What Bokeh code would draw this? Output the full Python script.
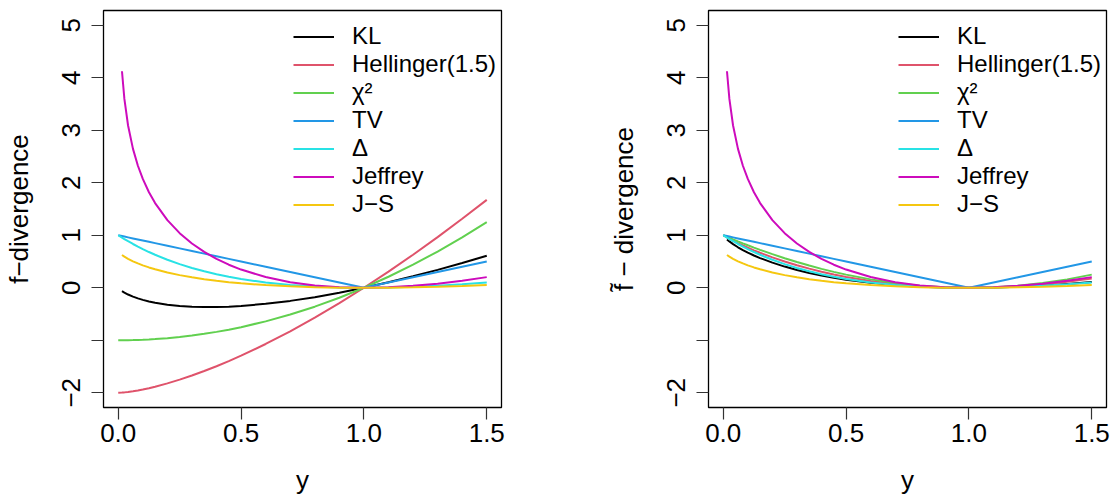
from bokeh.plotting import figure
from bokeh.models import Legend, LegendItem, FixedTicker
from bokeh.layouts import row
from bokeh.embed import file_html
from bokeh.resources import INLINE

# ---- data ---------------------------------------------------------------
y_grid = [0.0, 0.0152, 0.025, 0.04, 0.06, 0.08, 0.1, 0.125, 0.15, 0.2, 0.25,
          0.3, 0.35, 0.4, 0.45, 0.5, 0.6, 0.7, 0.8, 0.9, 1.0, 1.1, 1.2, 1.3,
          1.4, 1.5]

series_names = ["KL", "Hellinger(1.5)", "χ²", "TV", "Δ", "Jeffrey", "J−S"]
series_colors = ["#000000", "#DF536B", "#61D04F", "#2297E6", "#28E2E5",
                 "#CD0BBC", "#F5C710"]

# left panel: f-divergence (KL, Jeffrey, J-S start at the second grid point)
kl = [-0.0636, -0.0922, -0.1288, -0.1688, -0.2021, -0.2303, -0.2599, -0.2846,
      -0.3219, -0.3466, -0.3612, -0.3674, -0.3665, -0.3593, -0.3466, -0.3065,
      -0.2497, -0.1785, -0.0949, 0.0, 0.1048, 0.2188, 0.3411, 0.4711, 0.6082]
hellinger = [-2.0, -1.9963, -1.9921, -1.984, -1.9706, -1.9547, -1.9368, -1.9116,
             -1.8838, -1.8211, -1.75, -1.6714, -1.5859, -1.494, -1.3963, -1.2929,
             -1.0705, -0.8287, -0.5689, -0.2924, 0.0, 0.3074, 0.6291, 0.9645,
             1.313, 1.6742]
chi2 = [-1.0, -0.9998, -0.9994, -0.9984, -0.9964, -0.9936, -0.99, -0.9844,
        -0.9775, -0.96, -0.9375, -0.91, -0.8775, -0.84, -0.7975, -0.75, -0.64,
        -0.51, -0.36, -0.19, 0.0, 0.21, 0.44, 0.69, 0.96, 1.25]
tv = [1.0, 0.9848, 0.975, 0.96, 0.94, 0.92, 0.9, 0.875, 0.85, 0.8, 0.75, 0.7,
      0.65, 0.6, 0.55, 0.5, 0.4, 0.3, 0.2, 0.1, 0.0, 0.1, 0.2, 0.3, 0.4, 0.5]
delta = [1.0, 0.9553, 0.9274, 0.8862, 0.8336, 0.7837, 0.7364, 0.6806, 0.6283,
         0.5333, 0.45, 0.3769, 0.313, 0.2571, 0.2086, 0.1667, 0.1, 0.0529,
         0.0222, 0.0053, 0.0, 0.0048, 0.0182, 0.0391, 0.0667, 0.1]
jeffrey = [4.1229, 3.5967, 3.0901, 2.6446, 2.3236, 2.0723, 1.8195, 1.6125,
           1.2875, 1.0397, 0.8428, 0.6824, 0.5498, 0.4392, 0.3466, 0.2043,
           0.107, 0.0446, 0.0105, 0.0, 0.0095, 0.0365, 0.0787, 0.1346, 0.2027]
js = [0.6247, 0.5929, 0.5513, 0.5042, 0.4634, 0.4274, 0.3874, 0.3518, 0.2911,
      0.2409, 0.1988, 0.1632, 0.1328, 0.107, 0.085, 0.0505, 0.0266, 0.0112,
      0.0026, 0.0, 0.0024, 0.0091, 0.0197, 0.0335, 0.0504]

# right panel: normalised f-divergence
kl_t = [0.9212, 0.8828, 0.8312, 0.7712, 0.7179, 0.6697, 0.6151, 0.5654, 0.4781,
        0.4034, 0.3388, 0.2826, 0.2335, 0.1907, 0.1534, 0.0935, 0.0503, 0.0215,
        0.0051, 0.0, 0.0048, 0.0188, 0.0411, 0.0711, 0.1082]
hellinger_t = [1.0, 0.9581, 0.9329, 0.896, 0.8494, 0.8053, 0.7632, 0.7134,
               0.6662, 0.5789, 0.5, 0.4286, 0.3641, 0.306, 0.2537, 0.2071,
               0.1295, 0.0713, 0.0311, 0.0076, 0.0, 0.0074, 0.0291, 0.0645,
               0.113, 0.1742]
chi2_t = [1.0, 0.9698, 0.9506, 0.9216, 0.8836, 0.8464, 0.81, 0.7656, 0.7225,
          0.64, 0.5625, 0.49, 0.4225, 0.36, 0.3025, 0.25, 0.16, 0.09, 0.04,
          0.01, 0.0, 0.01, 0.04, 0.09, 0.16, 0.25]

x_ticks = [0.0, 0.5, 1.0, 1.5]
x_tick_labels = ["0.0", "0.5", "1.0", "1.5"]
y_ticks = [-2, -1, 0, 1, 2, 3, 4, 5]
y_tick_labels = ["−2", "", "0", "1", "2", "3", "4", "5"]

FONT = "Liberation Sans"


def xs_for(vals):
    return y_grid[len(y_grid) - len(vals):]


def make_panel(series, ylabel, border_left, border_right):
    p = figure(frame_width=398, frame_height=397,
               x_range=(-0.06, 1.56), y_range=(-2.28, 5.28),
               min_border_left=border_left, min_border_right=border_right,
               min_border_top=10, min_border_bottom=90,
               output_backend="svg", toolbar_location=None)
    p.xgrid.visible = False
    p.ygrid.visible = False
    p.outline_line_color = "#000000"
    p.outline_line_width = 1.3
    p.background_fill_color = "white"
    p.border_fill_color = "white"

    p.xaxis.ticker = FixedTicker(ticks=x_ticks)
    p.xaxis.major_label_overrides = dict(zip(x_ticks, x_tick_labels))
    p.yaxis.ticker = FixedTicker(ticks=y_ticks)
    p.yaxis.major_label_overrides = dict(zip(y_ticks, y_tick_labels))
    p.yaxis.major_label_orientation = "vertical"

    for ax in (p.xaxis, p.yaxis):
        ax.axis_line_color = None
        ax.major_tick_line_color = "#333333"
        ax.major_tick_line_width = 1.2
        ax.major_tick_out = 12
        ax.major_tick_in = 0
        ax.minor_tick_line_color = None
        ax.major_label_text_font = FONT
        ax.major_label_text_font_size = "26px"
        ax.major_label_text_color = "#000000"
        ax.axis_label_text_font = FONT
        ax.axis_label_text_font_size = "26px"
        ax.axis_label_text_font_style = "normal"
        ax.axis_label_text_color = "#000000"
    p.xaxis.major_label_standoff = 4
    p.yaxis.major_label_standoff = 11
    p.xaxis.axis_label = "y"
    p.xaxis.axis_label_standoff = 20
    p.yaxis.axis_label = ylabel
    p.yaxis.axis_label_standoff = 26

    items = []
    for name, vals, col in zip(series_names, series, series_colors):
        r = p.line(xs_for(vals), vals, line_color=col, line_width=2)
        items.append(LegendItem(label=name, renderers=[r]))

    legend = Legend(items=items, location=(190, 189))
    legend.border_line_color = None
    legend.background_fill_alpha = 0
    legend.padding = 0
    legend.margin = 0
    legend.spacing = 0
    legend.glyph_width = 41
    legend.glyph_height = 27
    legend.label_height = 27
    legend.label_standoff = 18
    legend.label_text_font = FONT
    legend.label_text_font_size = "24px"
    legend.label_text_color = "#000000"
    p.add_layout(legend)
    return p


left = make_panel([kl, hellinger, chi2, tv, delta, jeffrey, js],
                  "f−divergence", 102, 102)
right = make_panel([kl_t, hellinger_t, chi2_t, tv, delta, jeffrey, js],
                   "f\u0303 − divergence", 105, 6)

layout = row(left, right)
open("out.html", "w").write(file_html(layout, INLINE))
